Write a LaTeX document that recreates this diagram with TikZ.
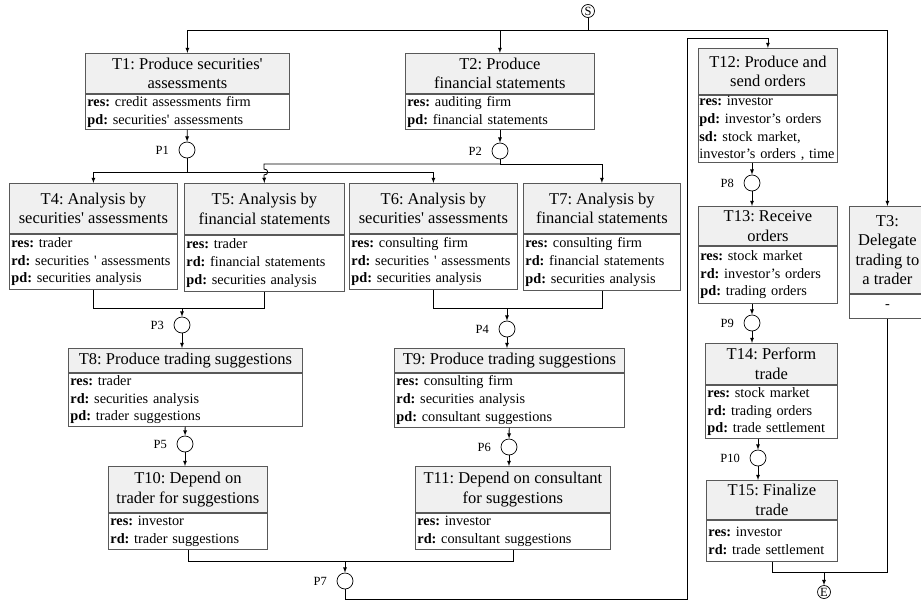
\documentclass[tikz,border=0pt]{standalone}
\usepackage{fontspec}
\setmainfont{Liberation Serif}
\usetikzlibrary{arrows}
\frenchspacing

\begin{document}
\begin{tikzpicture}[x=1pt, y=-1pt, line width=0.8pt, >=latex,
  ttl/.style={draw=black!65, fill=black!6, anchor=north west, align=center, inner sep=1pt, font=\fontsize{16.5}{19.5}\selectfont},
  body/.style={draw=black!65, anchor=north west, align=left, inner xsep=2pt, inner ysep=1pt, font=\fontsize{14.3}{17.7}\selectfont},
  place/.style={draw, circle, minimum size=16pt, inner sep=0pt, line width=0.7pt},
  term/.style={draw, circle, minimum size=13pt, inner sep=0pt, line width=0.7pt, font=\fontsize{12.5}{12}\selectfont},
  every label/.style={font=\fontsize{12.5}{14}\selectfont},
  label distance=6pt]
\useasboundingbox (0,0) rectangle (921,608);

% tasks
\node[ttl, minimum width=204pt, minimum height=40pt] (t1) at (85,53) {T1: Produce securities\textquotesingle\\assessments};
\node[body, text width=200pt, minimum height=35pt] (t1b) at (t1.south west) {\textbf{res:} credit assessments firm\\\textbf{pd:} securities\textquotesingle{} assessments};
\node[ttl, minimum width=189pt, minimum height=40pt] (t2) at (405,53) {T2: Produce\\financial statements};
\node[body, text width=185pt, minimum height=35pt] (t2b) at (t2.south west) {\textbf{res:} auditing firm\\\textbf{pd:} financial statements};
\node[ttl, minimum width=76pt, minimum height=87pt] (t3) at (849,206) {T3:\\Delegate\\trading to\\a trader};
\node[body, text width=72pt, minimum height=24pt, align=center] (t3b) at (t3.south west) {-};
\node[ttl, minimum width=168pt, minimum height=50pt] (t4) at (9,183) {T4: Analysis by\\securities\textquotesingle{} assessments};
\node[body, text width=164pt, minimum height=55pt] (t4b) at (t4.south west) {\textbf{res:} trader\\\textbf{rd:} securities \textquotesingle{} assessments\\\textbf{pd:} securities analysis};
\node[ttl, minimum width=160pt, minimum height=51pt] (t5) at (184,183) {T5: Analysis by\\financial statements};
\node[body, text width=156pt, minimum height=56pt] (t5b) at (t5.south west) {\textbf{res:} trader\\\textbf{rd:} financial statements\\\textbf{pd:} securities analysis};
\node[ttl, minimum width=168pt, minimum height=50pt] (t6) at (349,183) {T6: Analysis by\\securities\textquotesingle{} assessments};
\node[body, text width=164pt, minimum height=55pt] (t6b) at (t6.south west) {\textbf{res:} consulting firm\\\textbf{rd:} securities \textquotesingle{} assessments\\\textbf{pd:} securities analysis};
\node[ttl, minimum width=157pt, minimum height=50pt] (t7) at (523,183) {T7: Analysis by\\financial statements};
\node[body, text width=153pt, minimum height=56pt] (t7b) at (t7.south west) {\textbf{res:} consulting firm\\\textbf{rd:} financial statements\\\textbf{pd:} securities analysis};
\node[ttl, minimum width=234pt, minimum height=24pt] (t8) at (68,348) {T8: Produce trading suggestions};
\node[body, text width=230pt, minimum height=53pt] (t8b) at (t8.south west) {\textbf{res:} trader\\\textbf{rd:} securities analysis\\\textbf{pd:} trader suggestions};
\node[ttl, minimum width=230pt, minimum height=24pt] (t9) at (394,348) {T9: Produce trading suggestions};
\node[body, text width=226pt, minimum height=54pt] (t9b) at (t9.south west) {\textbf{res:} consulting firm\\\textbf{rd:} securities analysis\\\textbf{pd:} consultant suggestions};
\node[ttl, minimum width=159pt, minimum height=46pt] (t10) at (108,466) {T10: Depend on\\trader for suggestions};
\node[body, text width=155pt, minimum height=36pt] (t10b) at (t10.south west) {\textbf{res:} investor\\\textbf{rd:} trader suggestions};
\node[ttl, minimum width=195pt, minimum height=46pt] (t11) at (415,466) {T11: Depend on consultant\\for suggestions};
\node[body, text width=191pt, minimum height=36pt] (t11b) at (t11.south west) {\textbf{res:} investor\\\textbf{rd:} consultant suggestions};
\node[ttl, minimum width=139pt, minimum height=46pt] (t12) at (698,48) {T12: Produce and\\send orders};
\node[body, text width=137pt, inner xsep=1pt, minimum height=67pt] (t12b) at (t12.south west) {\textbf{res:} investor\\\textbf{pd:} investor's orders\\\textbf{sd:} stock market,\\\mbox{investor's orders , time}};
\node[ttl, minimum width=139pt, minimum height=39pt] (t13) at (698,206) {T13: Receive\\orders};
\node[body, text width=135pt, minimum height=57pt] (t13b) at (t13.south west) {\textbf{res:} stock market\\\textbf{rd:} investor's orders\\\textbf{pd:} trading orders};
\node[ttl, minimum width=132pt, minimum height=41pt] (t14) at (705,343) {T14: Perform\\trade};
\node[body, text width=128pt, minimum height=53pt] (t14b) at (t14.south west) {\textbf{res:} stock market\\\textbf{rd:} trading orders\\\textbf{pd:} trade settlement};
\node[ttl, minimum width=131pt, minimum height=39pt] (t15) at (706,480) {T15: Finalize\\trade};
\node[body, text width=127pt, minimum height=41pt] (t15b) at (t15.south west) {\textbf{res:} investor\\\textbf{rd:} trade settlement};

% places
\node[term] (s) at (588,11) {S};
\node[term] (e) at (824,592) {E};
\node[place, label=left:P1] (p1) at (187,150) {};
\node[place, label=left:P2] (p2) at (500,151) {};
\node[place, label=left:P3] (p3) at (182,325) {};
\node[place, label=left:P4] (p4) at (507,329) {};
\node[place, label=left:P5] (p5) at (185,444) {};
\node[place, label=left:P6] (p6) at (509,447) {};
\node[place, label=left:P7] (p7) at (345,581) {};
\node[place, label=left:P8] (p8) at (752,183) {};
\node[place, label=left:P9] (p9) at (752,323) {};
\node[place, label=left:P10] (p10) at (758,458) {};

\coordinate (sj) at (588,30);
\coordinate (j1) at (187,172);
\coordinate (j2) at (500,164);
\coordinate (j3) at (182,308);
\coordinate (j4) at (507,308);
\coordinate (j7) at (345,561);
\coordinate (je) at (824,572);
\coordinate (lb) at (687,599);
\coordinate (lt) at (687,38);

% flow
\draw (s) -- (sj);
\draw[->] (sj) -| (t1.north);
\draw[->] (sj) -| (t2.north);
\draw[->] (sj) -| (t3.north);
\draw[->] (t1b) -- (p1);
\draw[->] (t2b.south -| p2) -- (p2);
\draw (p1) -- (j1);
\draw[->] (j1) -| (t4.north);
\draw[->] (j1) -| (t6.north);
\draw (p2) -- (j2);
\draw[->] (j2) -| (t7.north);
\draw[->] (j2) -- (264,164) -- (264,169) .. controls (269,169) and (269,175) .. (264,175) -- (t5.north);
\draw (t4b) |- (j3);
\draw (t5b) |- (j3);
\draw[->] (j3) -- (p3);
\draw[->] (p3) -- (p3 |- t8.north);
\draw (t6b) |- (j4);
\draw (t7b) |- (j4);
\draw[->] (j4) -- (p4);
\draw[->] (p4) -- (p4 |- t9.north);
\draw[->] (t8b) -- (p5);
\draw[->] (p5) -- (p5 |- t10.north);
\draw[->] (t9b) -- (p6);
\draw[->] (p6) -- (p6 |- t11.north);
\draw (t10b) |- (j7);
\draw (t11b) |- (j7);
\draw[->] (j7) -- (p7);
\draw[->] (p7) |- (lb) -- (lt) -| (t12.north);
\draw[->] (t12b.south -| p8) -- (p8);
\draw[->] (p8) -- (p8 |- t13.north);
\draw[->] (t13b.south -| p9) -- (p9);
\draw[->] (p9) -- (p9 |- t14.north);
\draw[->] (t14b.south -| p10) -- (p10);
\draw[->] (p10) -- (p10 |- t15.north);
\draw (t15b) |- (je);
\draw (t3b) |- (je);
\draw[->] (je) -- (e);
\end{tikzpicture}
\end{document}
